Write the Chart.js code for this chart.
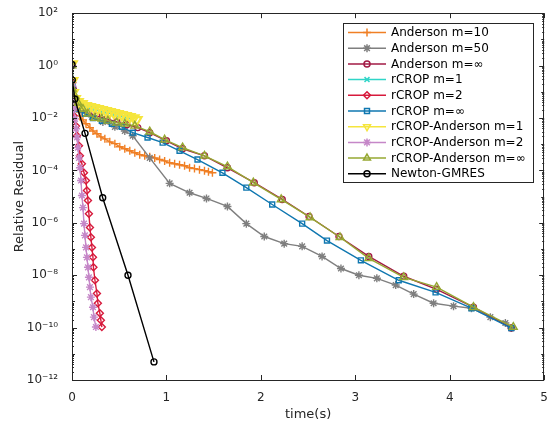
<!DOCTYPE html>
<html>
<head>
<meta charset="utf-8">
<script src="https://cdn.jsdelivr.net/npm/chart.js@4/dist/chart.umd.min.js"></script>
<style>
  html, body { margin: 0; padding: 0; background: #fff; }
  canvas { display: block; }
</style>
</head>
<body>
<canvas id="residual-chart" width="551" height="426"></canvas>
<script>
// Axis ticks
const xTicks = [0, 1, 2, 3, 4, 5];
const yTicks = [1e-12, 1e-10, 1e-8, 1e-6, 1e-4, 1e-2, 1e0, 1e2];

// Series names (legend order)
const seriesNames = [
    'Anderson m=10', 'Anderson m=50', 'Anderson m=\u221E',
    'rCROP m=1', 'rCROP m=2', 'rCROP m=\u221E',
    'rCROP-Anderson m=1', 'rCROP-Anderson m=2', 'rCROP-Anderson m=\u221E',
    'Newton-GMRES'
];

// ---------------- DATA (time in s, relative residual) ----------------
const tAnd10 = [0, 0.011, 0.032, 0.053, 0.084, 0.116, 0.148, 0.19, 0.222, 0.264, 0.306, 0.348, 0.40, 0.454, 0.506, 0.559, 0.612, 0.665, 0.717, 0.77, 0.823, 0.876, 0.928, 0.981, 1.034, 1.087, 1.139, 1.192, 1.245, 1.297, 1.35, 1.403, 1.445, 1.487];
const rAnd10 = [1.0, 0.107, 0.045, 0.022, 0.012, 8.5e-3, 6.0e-3, 4.3e-3, 3.2e-3, 2.5e-3, 1.9e-3, 1.6e-3, 1.23e-3, 1.05e-3, 8e-4, 6.7e-4, 5.6e-4, 4.7e-4, 4.0e-4, 3.6e-4, 3.3e-4, 3.0e-4, 2.6e-4, 2.3e-4, 1.95e-4, 1.8e-4, 1.65e-4, 1.5e-4, 1.26e-4, 1.17e-4, 1.07e-4, 9.8e-5, 8.9e-5, 8.1e-5];

const tAnd50 = [0, 0.011, 0.042, 0.105, 0.211, 0.327, 0.454, 0.559, 0.643, 0.823, 1.034, 1.245, 1.424, 1.646, 1.846, 2.036, 2.247, 2.437, 2.648, 2.848, 3.038, 3.228, 3.428, 3.618, 3.829, 4.04, 4.23, 4.43, 4.589, 4.652];
const rAnd50 = [1.0, 0.13, 0.038, 0.0186, 0.011, 7.1e-3, 4.6e-3, 3.2e-3, 2.1e-3, 3.0e-4, 3.2e-5, 1.4e-5, 8.5e-6, 4.2e-6, 9.3e-7, 3.0e-7, 1.6e-7, 1.26e-7, 5.2e-8, 1.8e-8, 1.0e-8, 7.6e-9, 4.2e-9, 1.9e-9, 8.5e-10, 6.6e-10, 5.5e-10, 2.5e-10, 1.5e-10, 9.6e-11];

const tAndInf = [0, 0.011, 0.032, 0.084, 0.169, 0.264, 0.369, 0.475, 0.58, 0.696, 0.823, 1.0, 1.171, 1.403, 1.646, 1.93, 2.226, 2.51, 2.827, 3.143, 3.513, 3.861, 4.251, 4.652];
const rAndInf = [1.0, 0.13, 0.045, 0.0245, 0.0158, 0.012, 9.3e-3, 7.1e-3, 5.5e-3, 4.3e-3, 2.75e-3, 1.35e-3, 6.7e-4, 3.6e-4, 1.26e-4, 3.4e-5, 7.8e-6, 1.74e-6, 3.0e-7, 5.2e-8, 9.1e-9, 2.9e-9, 6.0e-10, 9.6e-11];

const tCrop1 = [0, 0.005, 0.011, 0.042, 0.084, 0.137, 0.19, 0.243, 0.295, 0.348, 0.40, 0.454, 0.506, 0.559, 0.612];
const rCrop1 = [1.0, 0.22, 0.076, 0.045, 0.035, 0.029, 0.0245, 0.0224, 0.0186, 0.017, 0.0158, 0.0145, 0.0132, 0.011, 0.010];

const tCrop2 = [0, 0.003, 0.011, 0.016, 0.021, 0.042, 0.053, 0.074, 0.084, 0.105, 0.127, 0.148, 0.158, 0.169, 0.179, 0.19, 0.20, 0.211, 0.222, 0.227, 0.243, 0.264, 0.274, 0.295, 0.306, 0.316];
const rCrop2 = [1.0, 0.22, 0.069, 0.029, 0.012, 5.0e-3, 2.1e-3, 8.7e-4, 3.6e-4, 1.8e-4, 8.1e-5, 4.1e-5, 1.7e-5, 7.1e-6, 2.2e-6, 6.6e-7, 2.8e-7, 1.15e-7, 4.8e-8, 2.0e-8, 6.4e-9, 2.0e-9, 8.5e-10, 3.5e-10, 1.9e-10, 1.05e-10];

const tCropInf = [0, 0.005, 0.021, 0.063, 0.137, 0.222, 0.316, 0.422, 0.527, 0.643, 0.80, 0.96, 1.139, 1.329, 1.593, 1.846, 2.12, 2.437, 2.70, 3.059, 3.46, 3.85, 4.23, 4.652];
const rCropInf = [1.0, 0.166, 0.045, 0.022, 0.0145, 0.010, 7.8e-3, 6.0e-3, 4.6e-3, 2.75e-3, 1.8e-3, 1.15e-3, 5.6e-4, 2.6e-4, 8.1e-5, 2.2e-5, 5.0e-6, 9.3e-7, 2.1e-7, 3.7e-8, 6.4e-9, 2.2e-9, 5.5e-10, 9.6e-11];

const tCA1 = [0, 0.005, 0.011, 0.032, 0.063, 0.105, 0.148, 0.19, 0.232, 0.274, 0.316, 0.359, 0.40, 0.443, 0.485, 0.527, 0.57, 0.612, 0.654, 0.686];
const rCA1 = [1.15, 0.26, 0.091, 0.054, 0.041, 0.035, 0.029, 0.0266, 0.0245, 0.0224, 0.0205, 0.0186, 0.017, 0.0158, 0.0145, 0.0132, 0.012, 0.011, 0.010, 8.5e-3];

const tCA2 = [0, 0.003, 0.011, 0.016, 0.032, 0.042, 0.053, 0.063, 0.074, 0.084, 0.095, 0.105, 0.116, 0.127, 0.137, 0.148, 0.158, 0.169, 0.179, 0.19, 0.20, 0.222, 0.232, 0.253];
const rCA2 = [1.0, 0.166, 0.045, 0.022, 9.3e-3, 3.9e-3, 1.8e-3, 7.4e-4, 3.0e-4, 1.26e-4, 4.1e-5, 1.1e-5, 3.8e-6, 9.3e-7, 3.3e-7, 1.15e-7, 4.8e-8, 2.0e-8, 8.3e-9, 3.5e-9, 1.45e-9, 6.0e-10, 2.5e-10, 1.05e-10];

const tCAInf = [0, 0.002, 0.032, 0.063, 0.116, 0.169, 0.243, 0.316, 0.38, 0.475, 0.559, 0.665, 0.823, 0.981, 1.171, 1.403, 1.646, 1.92, 2.215, 2.521, 2.838, 3.143, 3.513, 3.861, 4.251, 4.673];
const rCAInf = [1.0, 0.13, 0.069, 0.038, 0.022, 0.0145, 0.010, 9.3e-3, 7.8e-3, 6.6e-3, 6.0e-3, 5.0e-3, 3.0e-3, 1.48e-3, 7.4e-4, 3.6e-4, 1.4e-4, 3.4e-5, 7.8e-6, 1.6e-6, 2.8e-7, 4.4e-8, 8.3e-9, 3.5e-9, 6.0e-10, 1.05e-10];

const tNewton = [0, 0.003, 0.03, 0.138, 0.325, 0.593, 0.868];
const rNewton = [1.1, 0.28, 0.053, 2.6e-3, 9e-6, 1e-8, 4.9e-12];

// ---------------- STYLES ----------------
const styles = [
    { color: '#F07F24', point: 'cross',    radius: 4,   rot: 0,   width: 1.4 },
    { color: '#7F7F7F', point: 'star',     radius: 4,   rot: 0,   width: 1.4 },
    { color: '#A21A45', point: 'circle',   radius: 3,   rot: 0,   width: 1.4 },
    { color: '#30D5C8', point: 'crossRot', radius: 3.5, rot: 0,   width: 1.4 },
    { color: '#D71A3C', point: 'rectRot',  radius: 3.5, rot: 0,   width: 1.4 },
    { color: '#0F77B0', point: 'rect',     radius: 3.5, rot: 0,   width: 1.4 },
    { color: '#F5E53D', point: 'triangle', radius: 5.5, rot: 180, width: 2.2 },
    { color: '#C587C8', point: 'star',     radius: 4,   rot: 0,   width: 1.4 },
    { color: '#96A832', point: 'triangle', radius: 4.5, rot: 0,   width: 1.4 },
    { color: '#000000', point: 'circle',   radius: 3,   rot: 0,   width: 1.4 }
];

const seriesT = [tAnd10, tAnd50, tAndInf, tCrop1, tCrop2, tCropInf, tCA1, tCA2, tCAInf, tNewton];
const seriesR = [rAnd10, rAnd50, rAndInf, rCrop1, rCrop2, rCropInf, rCA1, rCA2, rCAInf, rNewton];

const sup = { '-': '\u207B', '0': '\u2070', '1': '\u00B9', '2': '\u00B2', '3': '\u00B3',
    '4': '\u2074', '5': '\u2075', '6': '\u2076', '7': '\u2077', '8': '\u2078', '9': '\u2079' };

function powLabel(v) {
    const e = Math.round(Math.log10(v));
    return '10' + String(e).split('').map(c => sup[c]).join('');
}

const axisColor = '#262626';

// inward ticks + box, MATLAB style
const boxPlugin = {
    id: 'box',
    afterDatasetsDraw(chart) {
        const { ctx, chartArea: a, scales } = chart;
        ctx.save();
        ctx.strokeStyle = axisColor;
        ctx.lineWidth = 1;
        ctx.strokeRect(Math.round(a.left) + 0.5, Math.round(a.top) + 0.5,
            Math.round(a.right - a.left) - 1, Math.round(a.bottom - a.top));
        ctx.beginPath();
        xTicks.forEach(v => {
            const x = Math.round(scales.x.getPixelForValue(v)) + 0.5;
            ctx.moveTo(x, a.bottom); ctx.lineTo(x, a.bottom - 5);
            ctx.moveTo(x, a.top); ctx.lineTo(x, a.top + 5);
        });
        for (let e = -12; e <= 2; e++) {
            for (let k = 1; k <= 9; k++) {
                const v = k * Math.pow(10, e);
                if (v > 100 * 1.0001) break;
                const y = Math.round(scales.y.getPixelForValue(v)) + 0.5;
                const len = (k === 1) ? (e % 2 === 0 ? 5 : 3) : 2;
                ctx.moveTo(a.left, y); ctx.lineTo(a.left + len, y);
                ctx.moveTo(a.right, y); ctx.lineTo(a.right - len, y);
            }
        }
        ctx.stroke();
        ctx.restore();
    },
    afterDraw(chart) {
        // legend box, top right inside the axes
        const { ctx, chartArea: a } = chart;
        const w = 190, h = 159;
        const x0 = Math.round(a.right) - 11 - w, y0 = Math.round(a.top) + 10;
        ctx.save();
        ctx.fillStyle = '#fff';
        ctx.fillRect(x0, y0, w, h);
        ctx.strokeStyle = axisColor;
        ctx.lineWidth = 1;
        ctx.strokeRect(x0 + 0.5, y0 + 0.5, w, h);
        ctx.font = '12px "DejaVu Sans"';
        ctx.textBaseline = 'middle';
        seriesNames.forEach((name, i) => {
            const s = styles[i];
            const y = y0 + 9.5 + i * 15.7;
            ctx.strokeStyle = s.color;
            ctx.lineWidth = 1.5;
            ctx.beginPath();
            ctx.moveTo(x0 + 5, y); ctx.lineTo(x0 + 43, y);
            ctx.stroke();
            ctx.fillStyle = 'rgba(0,0,0,0)';
            Chart.helpers.drawPoint(ctx, {
                pointStyle: s.point, radius: Math.min(s.radius, 4), rotation: s.rot, borderWidth: 1.5
            }, x0 + 24, y);
            ctx.fillStyle = '#000';
            ctx.fillText(name, x0 + 48, y + 0.5);
        });
        ctx.restore();
    }
};

const datasets = seriesNames.map((name, i) => ({
    label: name,
    data: seriesT[i].map((t, j) => ({ x: t, y: seriesR[i][j] })),
    borderColor: styles[i].color,
    backgroundColor: 'rgba(0,0,0,0)',
    borderWidth: 1.4,
    pointStyle: styles[i].point,
    pointRadius: styles[i].radius,
    pointRotation: styles[i].rot,
    pointBorderColor: styles[i].color,
    pointBackgroundColor: 'rgba(0,0,0,0)',
    pointBorderWidth: styles[i].width,
    order: seriesNames.length - i,
    tension: 0
}));

new Chart(document.getElementById('residual-chart').getContext('2d'), {
    type: 'line',
    data: { datasets: datasets },
    options: {
        responsive: false,
        animation: false,
        devicePixelRatio: 1,
        layout: { autoPadding: false, padding: { left: 0, top: 12, right: 5, bottom: 0 } },
        plugins: { legend: { display: false }, tooltip: { enabled: false } },
        scales: {
            x: {
                type: 'linear',
                min: 0, max: 5,
                afterBuildTicks: s => { s.ticks = xTicks.map(v => ({ value: v })); },
                afterFit: s => { s.height = 46; },
                grid: { display: false },
                border: { display: false },
                ticks: { color: axisColor, font: { family: 'DejaVu Sans', size: 12 }, padding: 3, maxRotation: 0 },
                title: { display: true, text: 'time(s)', color: axisColor, font: { family: 'DejaVu Sans', size: 13 }, padding: { top: 0 } }
            },
            y: {
                type: 'logarithmic',
                min: 1e-12, max: 1e2,
                afterBuildTicks: s => { s.ticks = yTicks.map(v => ({ value: v })); },
                afterFit: s => { s.width = 72; },
                grid: { display: false },
                border: { display: false },
                ticks: { color: axisColor, font: { family: 'DejaVu Sans', size: 12 }, padding: 6, callback: v => powLabel(v) },
                title: { display: true, text: 'Relative Residual', color: axisColor, font: { family: 'DejaVu Sans', size: 13 }, padding: { top: 12, bottom: 0 } }
            }
        }
    },
    plugins: [boxPlugin]
});
</script>
</body>
</html>
